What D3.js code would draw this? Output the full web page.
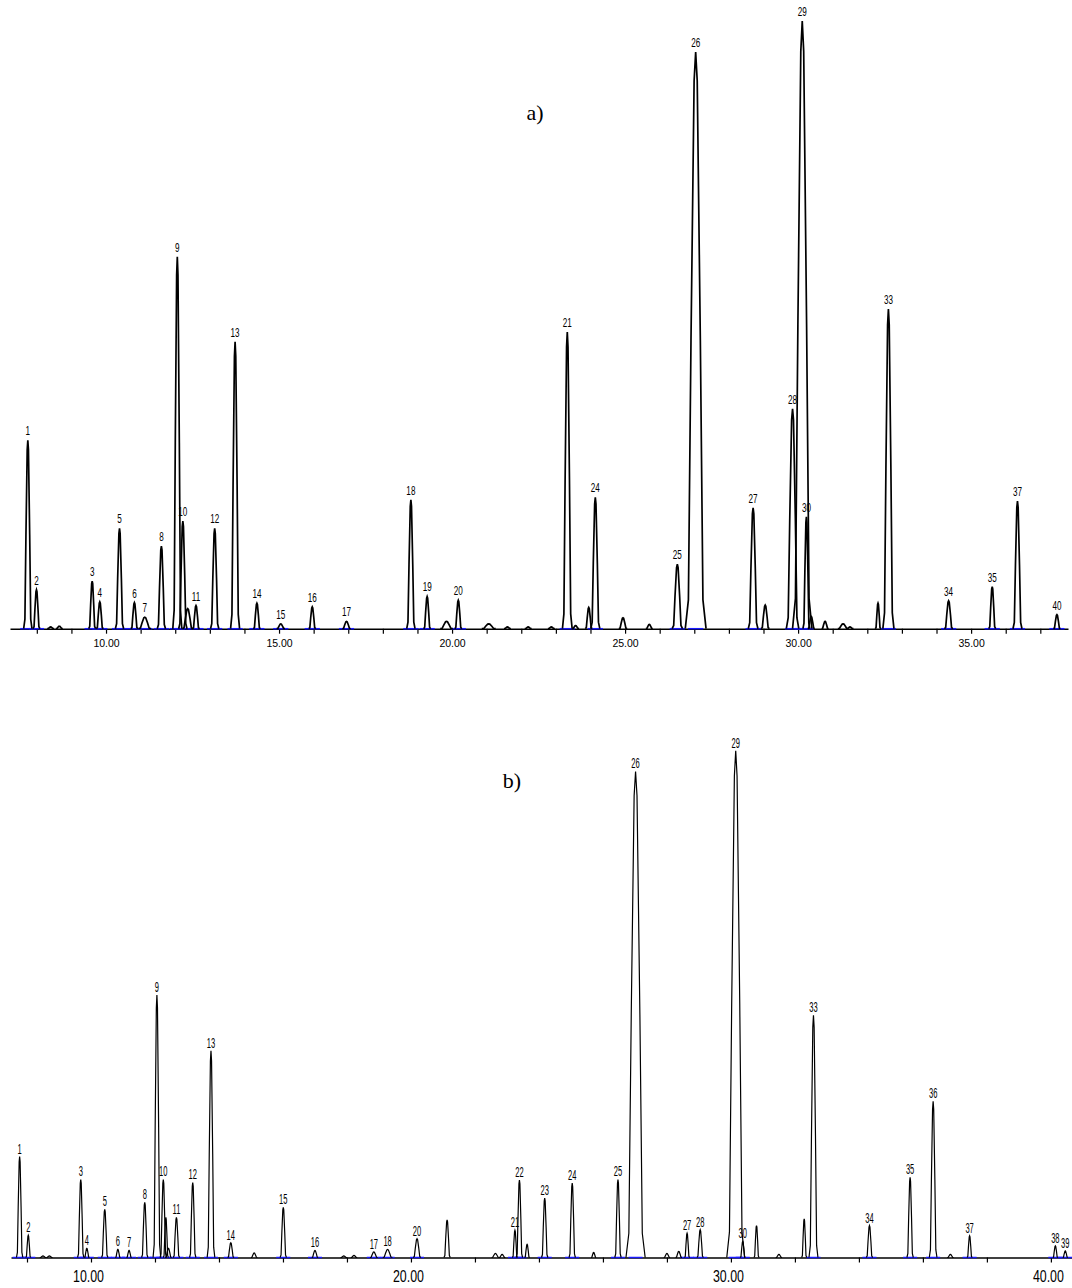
<!DOCTYPE html>
<html><head><meta charset="utf-8">
<script src="https://cdn.jsdelivr.net/npm/d3@7/dist/d3.min.js"></script>
<style>html,body{margin:0;padding:0;background:#fff;} svg{display:block;}</style>
</head><body>
<svg id="c" width="1072" height="1288"></svg>
<script>
// ---------- chart a) : retention time (min), relative height (%), peak half-width (min), label ----------
const timesA   = [7.74,7.99,8.40,8.65,9.60,9.82,10.39,10.82,11.12,11.60,12.06,12.22,12.36,12.60,13.14,13.73,14.36,15.05,15.96,16.95,18.81,19.28,19.84,20.18,21.06,21.60,22.20,22.87,23.33,23.57,23.95,24.14,24.94,25.70,26.51,27.04,28.70,29.05,29.84,30.12,30.24,30.38,30.78,31.30,31.50,32.31,32.61,34.35,35.61,36.34,37.48];
const heightsA = [31.0,6.4,0.3,0.4,7.8,4.4,16.5,4.3,1.9,13.6,61.2,17.7,3.3,3.8,16.5,47.2,4.2,0.8,3.6,1.2,21.2,5.3,1.2,4.7,0.8,0.3,0.3,0.3,48.8,0.5,3.5,21.6,1.8,0.7,10.6,94.9,19.9,3.9,36.2,100,18.4,2.0,1.2,0.8,0.3,4.2,52.6,4.6,6.9,21.0,2.3];
const widthsA  = [0.12,0.10,0.10,0.10,0.10,0.10,0.12,0.10,0.18,0.12,0.13,0.12,0.15,0.10,0.12,0.13,0.10,0.12,0.10,0.12,0.12,0.10,0.18,0.10,0.20,0.10,0.10,0.10,0.14,0.10,0.10,0.13,0.12,0.10,0.15,0.30,0.14,0.12,0.18,0.28,0.10,0.10,0.10,0.15,0.10,0.08,0.16,0.12,0.10,0.13,0.10];
const labelsA  = ["1","2","","","3","4","5","6","7","8","9","10","","11","12","13","14","15","16","17","18","19","","20","","","","","21","","","24","","","25","26","27","","28","29","30","","","","","","33","34","35","37","40"];
const ticksA = d3.range(8, 38);
const tickLabelsA = [10, 15, 20, 25, 30, 35];

// ---------- chart b) ----------
const timesB   = [7.77,8.04,8.50,8.70,9.68,9.87,10.43,10.84,11.19,11.68,12.06,12.26,12.34,12.42,12.67,13.18,13.75,14.37,15.10,16.01,17.00,17.90,18.22,18.84,19.27,20.19,21.13,22.64,22.85,23.25,23.39,23.63,24.18,25.04,25.71,26.47,27.02,28.00,28.37,28.63,29.04,30.15,30.37,30.80,31.50,32.29,32.58,34.33,35.60,36.32,36.86,37.46,40.14,40.45];
const heightsB = [19.9,4.4,0.3,0.3,15.4,1.8,9.5,1.6,1.4,10.9,51.8,15.4,7.9,1.8,7.9,14.8,40.8,2.9,0.9,9.9,1.4,0.3,0.4,1.1,1.6,3.7,7.4,0.8,0.6,5.4,15.3,2.6,11.7,14.7,1.0,15.4,95.9,0.8,1.2,4.8,5.5,100,3.2,6.3,0.6,7.6,47.8,6.3,15.8,30.8,0.6,4.3,2.3,1.3];
const widthsB  = [0.10,0.08,0.10,0.10,0.10,0.08,0.10,0.08,0.08,0.10,0.12,0.10,0.08,0.10,0.10,0.10,0.12,0.10,0.10,0.10,0.10,0.10,0.10,0.12,0.15,0.12,0.10,0.12,0.10,0.08,0.10,0.08,0.10,0.10,0.08,0.10,0.30,0.10,0.10,0.08,0.10,0.28,0.08,0.08,0.10,0.08,0.14,0.10,0.10,0.12,0.10,0.08,0.08,0.08];
const labelsB  = ["1","2","","","3","4","5","6","7","8","9","10","","","11","12","13","14","","15","16","","","17","18","20","","","","21","22","","23","24","","25","26","","","27","28","29","30","","","","33","34","35","36","","37","38","39"];
const ticksB = d3.range(8, 42, 2);
const tickLabelsB = [10, 20, 30, 40];

// peak outline template (fraction of half-width, fraction of height)
const shapeDx = [-1, -0.7, -0.45, -0.15, 0, 0.15, 0.45, 0.7, 1];
const shapeFy = [0, 0.05, 0.5, 0.95, 1, 0.95, 0.5, 0.05, 0];

const svg = d3.select("#c");

function drawChart(cfg) {
  const x = d3.scaleLinear().domain(cfg.xDomain).range(cfg.xRange);
  const y = d3.scaleLinear().domain([0, 100]).range(cfg.yRange);
  const g = svg.append("g");

  const axis = d3.axisBottom(x)
    .tickValues(cfg.ticks)
    .tickSize(5)
    .tickSizeOuter(0)
    .tickPadding(cfg.tickPad)
    .tickFormat(d => cfg.tickLabels.includes(d) ? d3.format(".2f")(d) : "");
  const ax = g.append("g").attr("transform", `translate(0,${cfg.yRange[0]})`).call(axis);
  ax.select(".domain").attr("stroke", "#000").attr("stroke-width", 1.5);
  ax.selectAll(".tick line").attr("stroke", "#000").attr("stroke-width", 1.2);
  ax.selectAll(".tick text")
    .attr("fill", "#000")
    .attr("dx", cfg.tickDx)
    .style("font-family", "'Liberation Sans', Arial, sans-serif")
    .style("font-size", cfg.tickFont + "px")
    .each(function () {
      const t = d3.select(this);
      if (t.text() && cfg.tickTextLen) t.attr("textLength", cfg.tickTextLen).attr("lengthAdjust", "spacingAndGlyphs");
    });

  const peaks = cfg.times.map((t, i) => ({t, h: cfg.heights[i], w: cfg.widths[i], label: cfg.labels[i]}));

  // integration baseline markers (blue) under labelled peaks
  g.append("g").selectAll("line").data(peaks.filter(p => p.label)).join("line")
    .attr("x1", p => x(p.t - 0.22)).attr("x2", p => x(p.t + 0.22))
    .attr("y1", y(0)).attr("y2", y(0))
    .attr("stroke", "#1a1aff").attr("stroke-width", 1.5);

  const line = d3.line().x(d => x(d[0])).y(d => y(d[1]));
  g.append("g").selectAll("path").data(peaks).join("path")
    .attr("d", p => line(shapeDx.map((dx, k) => [p.t + dx * p.w, shapeFy[k] * p.h])))
    .attr("fill", "none")
    .attr("stroke", "#000")
    .attr("stroke-width", cfg.peakStroke)
    .attr("stroke-linejoin", "miter");

  // condensed peak labels (horizontal squeeze via transform so the box stays true)
  g.append("g").selectAll("text").data(peaks.filter(p => p.label)).join("text")
    .attr("transform", p => `translate(${x(p.t)},${y(p.h) - cfg.labelGap}) scale(${cfg.labelSqueeze},1)`)
    .attr("text-anchor", "middle")
    .style("font-family", "'Liberation Sans', Arial, sans-serif")
    .style("font-size", cfg.labelFont + "px")
    .attr("fill", "#000")
    .text(p => p.label);

  svg.append("text")
    .attr("x", cfg.title[1]).attr("y", cfg.title[2])
    .attr("text-anchor", "middle")
    .style("font-family", "'Liberation Serif', 'Times New Roman', serif")
    .style("font-size", "22px")
    .text(cfg.title[0]);
}

drawChart({
  times: timesA, heights: heightsA, widths: widthsA, labels: labelsA,
  ticks: ticksA, tickLabels: tickLabelsA,
  xDomain: [7.225, 37.8], xRange: [10, 1068],
  yRange: [628.7, 21],
  tickPad: 6, tickFont: 10.5, tickTextLen: 0, tickDx: 0,
  peakStroke: 1.7, labelGap: 5, labelFont: 12.5, labelSqueeze: 0.65,
  title: ["a)", 535, 120]
});

drawChart({
  times: timesB, heights: heightsB, widths: widthsB, labels: labelsB,
  ticks: ticksB, tickLabels: tickLabelsB,
  xDomain: [7.5, 40.66], xRange: [11, 1072],
  yRange: [1257.5, 750.7],
  tickPad: 8, tickFont: 16, tickTextLen: 31, tickDx: -3,
  peakStroke: 1.2, labelGap: 3, labelFont: 14, labelSqueeze: 0.54,
  title: ["b)", 512, 788]
});
</script>
</body></html>
